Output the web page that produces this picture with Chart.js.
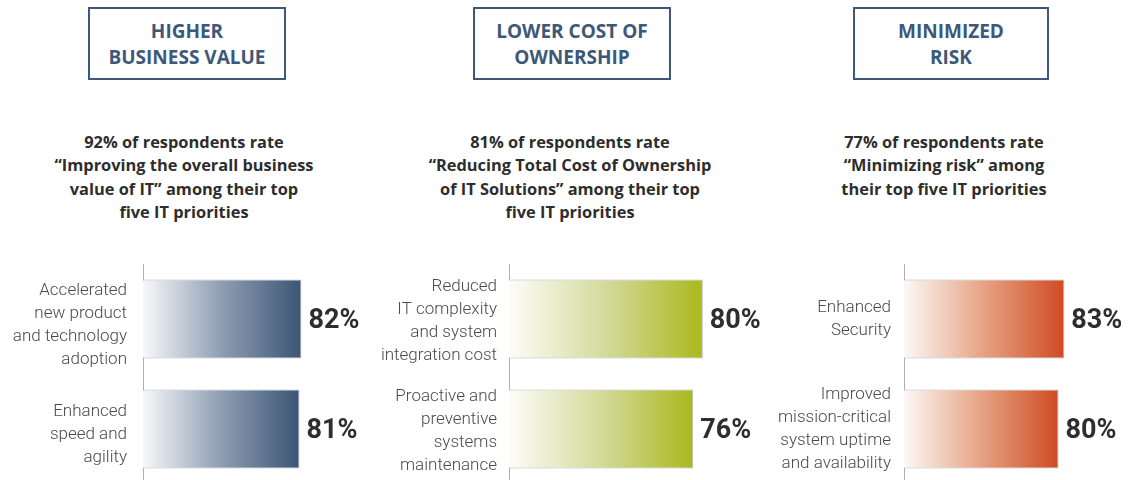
<!DOCTYPE html>
<html>
<head>
<meta charset="utf-8">
<script src="https://cdn.jsdelivr.net/npm/chart.js@4.4.1/dist/chart.umd.min.js"></script>
<style>
  body { margin: 0; width: 1134px; height: 480px; background: #fff; overflow: hidden; position: relative; font-family: Roboto, "Open Sans", sans-serif; }
  .box { position: absolute; top: 7px; height: 69px; border: 2.5px solid #3d5878; color: #3d5878; font-family: "Open Sans", sans-serif; font-weight: bold; font-size: 19px; line-height: 26px; text-align: center; display: flex; align-items: center; justify-content: center; }
  .sub { position: absolute; top: 130px; width: 340px; color: #2d2d2d; font-family: "Open Sans", sans-serif; font-weight: bold; font-size: 16.4px; line-height: 23.3px; text-align: center; }
  canvas { position: absolute; top: 250px; }
</style>
</head>
<body>
<div class="box" id="box0" style="left:88px;width:194px"></div>
<div class="box" id="box1" style="left:473px;width:194px"></div>
<div class="box" id="box2" style="left:853px;width:192px"></div>
<div class="sub" id="sub0" style="left:14px"></div>
<div class="sub" id="sub1" style="left:400px"></div>
<div class="sub" id="sub2" style="left:774px"></div>
<canvas id="c0" width="380" height="234" style="left:0px;width:380px;height:234px"></canvas>
<canvas id="c1" width="400" height="234" style="left:380px;width:400px;height:234px"></canvas>
<canvas id="c2" width="384" height="234" style="left:750px;width:384px;height:234px"></canvas>
<script>
// header boxes and subtitles
const titles = [["HIGHER", "BUSINESS VALUE"], ["LOWER COST OF", "OWNERSHIP"], ["MINIMIZED", "RISK"]];
const subtitles = [
  ["92% of respondents rate", "\u201cImproving the overall business", "value of IT\u201d among their top", "five IT priorities"],
  ["81% of respondents rate", "\u201cReducing Total Cost of Ownership", "of IT Solutions\u201d among their top", "five IT priorities"],
  ["77% of respondents rate", "\u201cMinimizing risk\u201d among", "their top five IT priorities"]
];

// bar data
const businessLabels = [["Accelerated", "new product", "and technology", "adoption"], ["Enhanced", "speed and", "agility"]];
const businessValues = [82, 81];
const costLabels = [["Reduced", "IT complexity", "and system", "integration cost"], ["Proactive and", "preventive", "systems", "maintenance"]];
const costValues = [80, 76];
const riskLabels = [["Enhanced", "Security"], ["Improved", "mission-critical", "system uptime", "and availability"]];
const riskValues = [83, 80];

titles.forEach((t, i) => {
  document.getElementById("box" + i).innerHTML = t.join("<br>");
  document.getElementById("sub" + i).innerHTML = subtitles[i].join("<br>");
});

const valueLabels = {
  id: "valueLabels",
  afterDatasetsDraw(chart) {
    const c = chart.ctx;
    const meta = chart.getDatasetMeta(0);
    c.save();
    c.font = "bold 27px Roboto, 'Open Sans', sans-serif";
    c.fillStyle = "#2e2e2e";
    c.textAlign = "left";
    c.textBaseline = "middle";
    meta.data.forEach((bar, i) => {
      c.fillText(chart.data.datasets[0].data[i] + "%", bar.x + 7, bar.y + 2);
    });
    c.restore();
  }
};

function makeChart(id, labels, values, stops, axisWidth, areaWidth, tickPad, labelShift) {
  const canvas = document.getElementById(id);
  new Chart(canvas, {
    type: "bar",
    data: {
      labels: labels,
      datasets: [{
        data: values,
        backgroundColor(ctx) {
          const chart = ctx.chart;
          if (!chart.chartArea) return stops[stops.length - 1];
          const x = chart.scales.x;
          const g = chart.ctx.createLinearGradient(x.getPixelForValue(0), 0, x.getPixelForValue(ctx.raw), 0);
          stops.forEach((s, k) => g.addColorStop(k / (stops.length - 1), s));
          return g;
        },
        borderColor: "#b4b8c0",
        borderWidth: 1,
        barPercentage: 0.72,
        categoryPercentage: 1
      }]
    },
    options: {
      indexAxis: "y",
      responsive: false,
      animation: false,
      layout: { padding: { top: 14, bottom: 0, left: 0, right: canvas.width - axisWidth - areaWidth } },
      plugins: { legend: { display: false }, tooltip: { enabled: false } },
      scales: {
        x: { display: false, min: 0, max: 100 },
        y: {
          afterFit(scale) {
            // fixed axis width, and no extra room for the tall multi-line labels
            scale.width = axisWidth;
            scale.paddingTop = 0;
            scale.paddingBottom = 0;
          },
          grid: { display: false, drawTicks: false },
          border: { color: "#aeaeae", width: 1 },
          ticks: {
            padding: tickPad,
            labelOffset: labelShift,
            color: "#4a4a4a",
            font: { family: "Roboto, 'Open Sans', sans-serif", size: 17, weight: 300, lineHeight: 1.36 }
          }
        }
      }
    },
    plugins: [valueLabels]
  });
}

makeChart("c0", businessLabels, businessValues, ["#f7f8fa", "#8d9db2", "#3b5574"], 143, 193.2, 16, 6);
makeChart("c1", costLabels, costValues, ["#fdfdf8", "#d3da9a", "#abb81c"], 129, 242.3, 12, 2);
makeChart("c2", riskLabels, riskValues, ["#fdf8f6", "#e6a283", "#d04a22"], 154, 193.2, 13, 0);
</script>
</body>
</html>
